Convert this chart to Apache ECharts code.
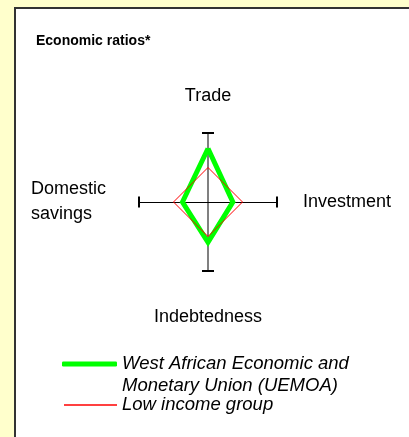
<!DOCTYPE html>
<html>
<head>
<meta charset="utf-8">
<script src="https://cdn.jsdelivr.net/npm/echarts@6/dist/echarts.min.js"></script>
<style>
html,body{margin:0;padding:0;background:#FFFFCC;}
#c{width:409px;height:437px;}
</style>
</head>
<body>
<div id="c"></div>
<script>
// Data
const verticalAxes = ['Trade', 'Indebtedness'];
const horizontalAxes = ['Investment', 'Domestic savings'];
const indicators = ['Trade', 'Domestic savings', 'Indebtedness', 'Investment'];
const seriesNames = ['West African Economic and Monetary Union (UEMOA)', 'Low income group'];
const uemoaValues = [1.55, 0.74, 1.17, 0.72];
const lowIncomeValues = [1, 1, 1, 1];
const axisMax = 2;

const FONT = '"Liberation Sans", Arial, sans-serif';
const CENTER = [208, 202];
const RADIUS = 69;

const chart = echarts.init(document.getElementById('c'), null, {renderer: 'canvas'});

const hidden = {
  splitLine: {show: false},
  splitArea: {show: false},
  axisTick: {show: false},
  axisLabel: {show: false}
};

const option = {
  backgroundColor: '#FFFFCC',
  animation: false,
  graphic: [{
    type: 'rect',
    left: 14, top: 7,
    shape: {width: 420, height: 450},
    style: {fill: '#FFFFFF', stroke: '#333333', lineWidth: 2},
    z: -10
  }],
  title: {
    text: 'Economic ratios*',
    left: 36, top: 34, padding: 0,
    textStyle: {fontFamily: FONT, fontSize: 14, fontWeight: 'bold', color: '#000'}
  },
  radar: [
    Object.assign({
      indicator: verticalAxes.map(n => ({name: n, max: axisMax})),
      center: CENTER, radius: RADIUS, startAngle: 90, splitNumber: 1,
      axisLine: {show: true, lineStyle: {color: '#808080', width: 2}},
      nameGap: 28,
      axisName: {
        color: '#000', fontFamily: FONT, fontSize: 18,
        formatter: v => v === 'Indebtedness' ? '{b|' + v + '}' : v,
        rich: {b: {fontFamily: FONT, fontSize: 18, color: '#000', padding: [9, 0, 0, 0]}}
      }
    }, hidden),
    Object.assign({
      indicator: verticalAxes.map(n => ({name: n, max: axisMax})),
      center: CENTER, radius: RADIUS, startAngle: 90, splitNumber: 1,
      axisLine: {show: true, symbol: ['none', 'rect'], symbolSize: [12, 2], lineStyle: {color: '#000', width: 0}},
      axisName: {show: false}
    }, hidden),
    Object.assign({
      indicator: horizontalAxes.map(n => ({name: n, max: axisMax})),
      center: CENTER, radius: RADIUS, startAngle: 0, splitNumber: 1,
      axisLine: {show: true, symbol: ['none', 'rect'], symbolSize: [11, 2], lineStyle: {color: '#000', width: 1}},
      nameGap: 26,
      axisName: {
        color: '#000', fontFamily: FONT, fontSize: 18,
        formatter: v => {
          if (v === 'Domestic savings') {
            return v.split(' ').map(w => '{a|' + w + '}').join('\n');
          }
          return v;
        },
        rich: {a: {fontFamily: FONT, fontSize: 18, color: '#000', width: 82, align: 'left', lineHeight: 25}}
      }
    }, hidden),
    Object.assign({
      indicator: indicators.map(n => ({name: n, max: axisMax})),
      center: CENTER, radius: RADIUS, startAngle: 90, splitNumber: 1,
      axisLine: {show: false},
      axisName: {show: false}
    }, hidden)
  ],
  legend: [{
    data: [seriesNames[0]],
    left: 62, top: 331, padding: 0,
    orient: 'vertical',
    itemWidth: 55, itemHeight: 5, itemGap: 0,
    icon: 'roundRect',
    itemStyle: {borderWidth: 0},
    formatter: () => '\nWest African Economic and\nMonetary Union (UEMOA)',
    textStyle: {fontFamily: FONT, fontSize: 18.5, fontStyle: 'italic', color: '#000', lineHeight: 22}
  }, {
    data: [seriesNames[1]],
    left: 64, top: 395, padding: 0,
    orient: 'vertical',
    itemWidth: 53, itemHeight: 1.5, itemGap: 0,
    icon: 'rect',
    itemStyle: {borderWidth: 0},
    textStyle: {fontFamily: FONT, fontSize: 18.5, fontStyle: 'italic', color: '#000', lineHeight: 20}
  }],
  series: [{
    name: seriesNames[0],
    type: 'radar',
    radarIndex: 3,
    symbol: 'none',
    color: '#00FF00',
    z: 5,
    lineStyle: {color: '#00FF00', width: 5, join: 'miter', miterLimit: 10},
    data: [{name: seriesNames[0], value: uemoaValues}]
  }, {
    name: seriesNames[1],
    type: 'radar',
    radarIndex: 3,
    symbol: 'none',
    color: '#FF0000',
    z: 6,
    lineStyle: {color: '#FF0000', width: 1, join: 'miter'},
    data: [{name: seriesNames[1], value: lowIncomeValues}]
  }]
};

chart.setOption(option);
</script>
</body>
</html>
